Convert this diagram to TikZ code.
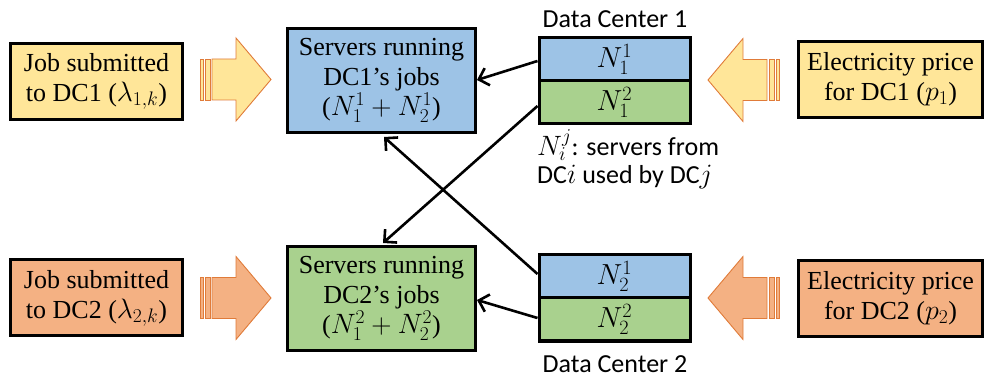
\RequirePackage{fix-cm}
\documentclass[tikz,border=0pt]{standalone}
\usepackage{fontspec}
\setmainfont{Liberation Serif}
\newfontfamily\calib{Carlito}
\usetikzlibrary{arrows.meta}
\definecolor{yel}{HTML}{FFE699}
\definecolor{org}{HTML}{F4B183}
\definecolor{blu}{HTML}{9DC3E6}
\definecolor{grn}{HTML}{A9D18E}
\definecolor{aline}{HTML}{E07B39}
\tikzset{
  txtbox/.style={draw=black, line width=3pt, inner sep=0pt, align=center,
    font=\fontsize{26}{30}\selectfont},
  cell/.style={draw=black, line width=3pt, inner sep=0pt, minimum width=151pt,
    minimum height=43pt, font=\fontsize{29}{30}\selectfont},
  dclabel/.style={font=\calib\fontsize{26}{28}\selectfont, anchor=base, inner sep=0pt},
  conn/.style={draw=black, line width=2.6pt, -{Straight Barb[length=9pt,width=18pt,line width=2.6pt]}},
  pics/barrow/.style={code={
    \begin{scope}[draw=aline, line width=0.9pt, fill=#1]
      \filldraw (0,-20.5) rectangle (3,20.5);
      \filldraw (5,-20.5) rectangle (10,20.5);
      \filldraw (12,-20.5) -- (36,-20.5) -- (36,-41.5) -- (71,0) -- (36,41.5) -- (36,20.5) -- (12,20.5) -- cycle;
    \end{scope}
  }}
}
\newcommand{\mymath}[1]{{\fontsize{28}{30}\selectfont$#1$}}
\begin{document}
\begin{tikzpicture}[x=1pt,y=-1pt]
\useasboundingbox (0,0) rectangle (988,379);
% block arrows
\pic at (200,79.5) {barrow=yel};
\pic[xscale=-1] at (779,80) {barrow=yel};
\pic at (200,298) {barrow=org};
\pic[xscale=-1] at (779,298) {barrow=org};
% input boxes
\node[txtbox, fill=yel, minimum width=172pt, minimum height=76pt] (job1) at (96.5,81.5) {Job submitted\\to DC1 (\mymath{\lambda_{1,k}})};
\node[txtbox, fill=org, minimum width=172pt, minimum height=76pt] (job2) at (96.5,298) {Job submitted\\to DC2 (\mymath{\lambda_{2,k}})};
\node[txtbox, fill=yel, minimum width=184pt, minimum height=76pt] (price1) at (890.5,79.5) {Electricity price\\for DC1 (\mymath{p_1})};
\node[txtbox, fill=org, minimum width=184pt, minimum height=76pt] (price2) at (890.5,298.5) {Electricity price\\for DC2 (\mymath{p_2})};
% server boxes
\node[txtbox, fill=blu, minimum width=188pt, minimum height=104pt] (srv1) at (381.5,80.5) {Servers running\\DC1’s jobs\\(\mymath{N_1^1+N_2^1})};
\node[txtbox, fill=grn, minimum width=188pt, minimum height=104pt] (srv2) at (381.5,298.5) {Servers running\\DC2’s jobs\\(\mymath{N_1^2+N_2^2})};
% data centers
\node[cell, fill=blu] (a11) at (614.5,59.5) {$N_1^1$};
\node[cell, fill=grn] (a12) at (614.5,102.5) {$N_1^2$};
\node[cell, fill=blu] (a21) at (614.5,276.5) {$N_2^1$};
\node[cell, fill=grn] (a22) at (614.5,319.5) {$N_2^2$};
\node[dclabel] (lab1) at (615,28) {Data Center 1};
\node[dclabel] (lab2) at (615,372) {Data Center 2};
% legend
\node[anchor=base west, inner sep=0pt, font=\calib\fontsize{26}{28}\selectfont, align=left] (leg) at (537,184) {\mymath{N_i^j}: servers from\\DC\mymath{i} used by DC\mymath{j}};
% connectors
\coordinate (t1) at (383,243);
\coordinate (t2) at (384,137);
\draw[conn] (a11.west |- 0,61) -- (srv1.east |- 0,80);
\draw[conn] (a12.west |- 0,106) -- (t1);
\draw[conn] (a21.west |- 0,274) -- (t2);
\draw[conn] (a22.west |- 0,318) -- (srv2.east |- 0,300);
\end{tikzpicture}
\end{document}
